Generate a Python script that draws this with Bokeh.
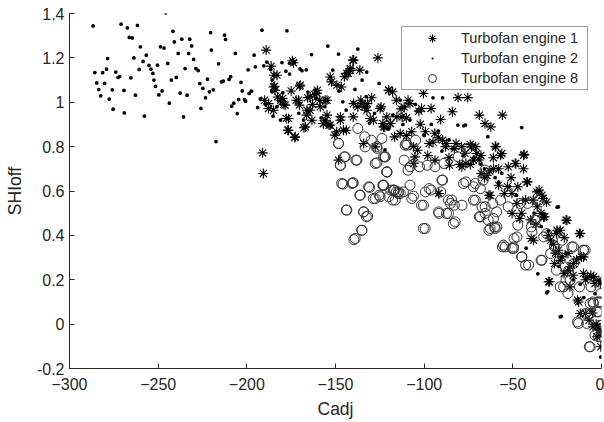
from bokeh.plotting import figure
from bokeh.models import ColumnDataSource, FixedTicker, Legend, LegendItem
from bokeh.embed import file_html
from bokeh.resources import INLINE

# ---------------- data ----------------
e1 = [(-189.1,1.235),(-191.1,0.772),(-190.7,0.679),(-186.3,1.163),(-184.8,1.122),(-184.3,1.072),(-184.1,1.054),(-190,1.009),(-187.8,0.972),(-182.6,1.024),(-180.9,1.009),(-179.1,0.991),(-179.8,1.017),(-177.8,0.927),(-176.9,0.874),(-174.3,1.187),(-173,0.841),(-175,1.051),(-170.2,1.072),(-172.2,1.009),(-170.4,0.987),(-167.8,0.885),(-166.3,0.942),(-165.7,1.021),(-164.3,0.964),(-163,0.99),(-161.7,1.035),(-160.2,1.054),(-158.9,1.009),(-156.9,0.904),(-154.8,1.009),(-155.6,0.919),(-153.7,0.897),(-152.2,1.092),(-150.4,0.852),(-149.3,0.867),(-148.3,0.739),(-147.2,0.934),(-146.7,1.069),(-145,1.115),(-143.9,0.874),(-142.8,1.13),(-141.7,1.145),(-140.2,1.19),(-136.3,1.145),(-140,0.934),(-137.4,0.979),(-135.7,1.009),(-134.1,0.814),(-133.5,0.979),(-132,0.994),(-130.4,0.927),(-129.6,1.02),(-127.6,0.799),(-126.1,1.2),(-124.3,0.979),(-123.3,0.904),(-122.2,0.889),(-121.1,0.934),(-119.9,1.054),(-118.9,0.904),(-117.8,1.047),(-116.7,0.844),(-115.7,1.009),(-113.5,0.859),(-112.4,0.934),(-111.3,0.979),(-109.1,1.009),(-108,0.994),(-107,0.867),(-105.9,0.724),(-105.2,0.754),(-103.7,0.784),(-102.2,0.901),(-101.5,0.972),(-100.4,1.04),(-99.3,0.867),(-97.2,0.814),(-96.1,0.972),(-93.9,0.739),(-91.7,0.589),(-90.7,0.922),(-89.6,0.829),(-87.4,0.814),(-85.7,0.716),(-84.1,0.957),(-82,0.814),(-80.9,1.021),(-78.7,0.709),(-76.5,0.724),(-75.4,1.021),(-73.3,0.799),(-72.2,0.739),(-70.4,0.769),(-68.9,0.942),(-67.8,0.679),(-65.7,0.904),(-64.6,0.671),(-63.5,0.581),(-62.4,0.889),(-60.9,0.701),(-59.6,0.799),(-58,0.626),(-56.9,0.761),(-55.9,0.942),(-54.8,0.589),(-52.6,0.709),(-50.4,0.499),(-48.3,0.724),(-47.2,0.619),(-46.1,0.476),(-43.9,0.761),(-42.8,0.559),(-41.7,0.641),(-39.6,0.386),(-38.5,0.559),(-36.3,0.529),(-35.2,0.604),(-34.1,0.499),(-33,0.566),(-32,0.484),(-29.8,0.191),(-28.7,0.378),(-26.5,0.273),(-25.4,0.408),(-24.3,0.333),(-23.3,0.423),(-22.2,0.303),(-21.1,0.228),(-20,0.469),(-18.9,0.318),(-17.8,0.168),(-15.7,0.273),(-13.5,0.108),(-12.4,0.408),(-11.3,0.303),(-10.2,0.228),(-9.1,0.048),(-8,0.213),(-7,0.018),(-4.8,-0.012),(-3.7,0.183),(-2.6,-0.057),(-1.5,0.198),(-0.4,-0.102),(-0.9,-0.027),
(-183,1.122),(-173.7,1.178),(-184.9,1.069),(-169.9,1.077),(-187.8,0.994),(-180.2,1.002),(-178.4,0.987),(-184.9,0.964),(-170.9,1.009),(-176.5,0.927),(-176.5,0.874),(-172.7,0.844),(-164.3,1.024),(-160.5,1.04),(-155.8,1.009),(-158.6,0.979),(-154.8,0.942),(-166.1,0.964),(-163.3,0.919),(-167,0.889),(-153,1.114),(-149.2,1.077),(-143.6,1.13),(-141.7,1.152),(-139.8,1.19),(-147.3,0.919),(-153,0.897),(-156.8,0.904),(-145.5,0.874),(-139.8,0.994),(-135.1,0.994),(-132.3,0.964),(-124.8,0.972),(-120.1,1.054),(-119.1,0.904),(-128.6,0.919),(-122.9,0.889),(-115.4,0.934),
(-59.9,0.802),(-56.2,0.769),(-43.6,0.765),(-48.7,0.724),(-42.1,0.641),(-36.4,0.596),(-33.6,0.581),(-32.7,0.483),(-50.5,0.589),(-47.7,0.544),(-38.3,0.378),(-25.1,0.423),(-19.5,0.468),(-12,0.409),(-29.3,0.191),(-23.3,0.288),(-17.7,0.258),(-10.2,0.303),(-12.9,0.1),(-12,0.048),(-4.5,0.213),(-0.7,0.183),(-2.6,-0.012),(-91.9,0.589),(-62.8,0.581),
(-110,0.85),(-106,0.80),(-98,0.76),(-95,0.82),(-88,0.80),(-86,0.75),(-80,0.72),(-79,0.80),(-77,0.77),(-74,0.72),(-71,0.80),(-69,0.74),(-66,0.66),(-63,0.69),(-61,0.75),(-58,0.70),(-53,0.62),(-51,0.66),(-45,0.50),(-44,0.70),(-40,0.47),(-37,0.45),(-31,0.55),(-30,0.40),(-27,0.36),(-26,0.32),(-21,0.39),(-19,0.24),(-16,0.22),(-14,0.29),(-9,0.20),(-6,0.22),(-5,0.05),(-3,0.00),(-1,-0.05),(-113,0.97),(-110,0.93),(-103,0.96),(-94,0.86),(-92,0.84),(-83,0.79),(-74,0.81),(-68,0.76)]

e2 = [(-286.7,1.344),(-285.7,1.134),(-284.6,1.087),(-283.5,1.057),(-282.4,1.029),(-281.3,1.133),(-280.2,1.085),(-278.5,1.197),(-279.1,1.149),(-277.6,1.014),(-275.9,1.056),(-275.4,0.969),(-273.9,1.136),(-272.6,1.112),(-271.7,1.116),(-270.9,1.352),(-269.3,1.053),(-269.1,0.952),(-267.4,1.335),(-266.3,1.292),(-264.6,1.29),(-265.4,1.11),(-263.7,1.2),(-262.8,1.032),(-261.7,1.346),(-260.7,1.148),(-260,1.25),(-258.5,1.184),(-257.8,0.937),(-256.7,1.212),(-255.2,1.166),(-254.1,1.149),(-253,1.13),(-252.4,1.1),(-251.5,1.072),(-250.4,1.167),(-249.6,1.033),(-248.7,1.25),(-247.8,1.051),(-246.7,1.244),(-245.7,1.403),(-244.6,1.175),(-243.7,0.996),(-242.6,1.1),(-241.7,1.32),(-240.9,1.272),(-239.8,1.112),(-238.7,1.22),(-237.6,1.041),(-236.7,1.284),(-235.7,0.934),(-234.8,1.152),(-233.7,1.032),(-232.8,1.22),(-232.2,1.284),(-231.1,1.254),(-230,1.193),(-228.7,1.152),(-227.4,1.143),(-226.5,1.084),(-225.9,0.972),(-224.8,1.063),(-223.3,1.02),(-222.2,1.104),(-221.1,1.047),(-220.4,1.314),(-220,1.235),(-218.9,1.056),(-217.4,0.823),(-215.9,1.173),(-214.3,1.092),(-213.3,1.095),(-212.6,1.302),(-212,1.283),(-210,1.103),(-209.1,1.115),(-208.5,0.982),(-207.4,0.996),(-206.5,1.22),(-205.4,0.949),(-204.6,1.012),(-203.3,1.09),(-202.6,1.051),(-201.3,1.012),(-200.7,1.005),(-199.3,1.146),(-198.7,1.04),(-197.4,1.05),(-195.9,1.212),(-195.2,1.16),(-193.9,0.976),(-192.4,1.015),(-191.5,1.325),(-190.4,1.164),(-189.6,0.991),(-188.7,1.181),(-186.5,1.148),(-185.7,1.1),(-185.2,0.937),(-180.2,1.179),(-177.4,1.322),(-175.9,1.176),(-173.3,1.182),(-168.9,1.142),(-166.5,1.146),(-163.5,1.215),(-154.3,1.253),(-148.3,1.217),(-137.4,1.24),(-132.4,1.136),
(-151.5,1.145),(-139,1.058),(-165.6,1.046),(-161.8,1.055),(-145.9,1.002),(-144,0.965),(-179.7,1.043),(-175.9,1.127),(-181,0.92),(-170.7,0.95),(-160.9,1.017),(-158.1,0.93),(-152.5,0.89),(-132.7,1.025),(-130.8,0.906),(-117.7,0.942),(-122.1,0.785),(-125.4,1.085),(-113.5,1.01),(-95,1.02),(-89.6,1.02),(-77.6,0.894),(-45,0.886),(-24.3,0.529),(-23.3,0.033),(-30.9,0.141),(-13.5,0.296),(-4.8,0.213),(-0.4,-0.148),(-3.7,0.138),(-81,0.897),(-76.7,0.897),(-64.1,0.845),(-56.2,0.68),(-42.5,0.342),(-35.9,0.227),(-30.3,0.147),(-22.7,0.035),(-25,0.527),
(-108,0.92),(-104,0.96),(-96,0.9),(-92,0.87),(-86,0.83),(-84,0.79),(-72,0.75),(-68,0.72),(-60,0.66),(-52,0.62),(-48,0.58),(-38,0.50),(-34,0.44),(-28,0.36),(-20,0.32),(-16,0.2),(-10,0.12),(-6,0.06),(-2,-0.02),(-140,1.0),(-128,0.95),(-120,0.88),(-112,0.9),(-100,0.85),(-90,0.78),(-78,0.76),(-66,0.7),(-58,0.64),(-44,0.56),(-30,0.42),(-24,0.26),(-12,0.18),(-135,1.1),(-170,1.15),(-178,1.14),(-186,1.05),(-183,0.98),(-168,0.92),(-156,0.98),(-148,1.05),(-105,0.99),(-110,1.065)]

e8 = [(-148.3,0.814),(-146.5,0.634),(-145,0.754),(-147.2,0.716),(-143.9,0.514),(-140.7,0.634),(-140,0.637),(-138.5,0.739),(-137.4,0.882),(-136.3,0.581),(-135.2,0.423),(-139.6,0.381),(-134.1,0.506),(-132.6,0.484),(-133.5,0.844),(-131.3,0.619),(-129.8,0.829),(-128.7,0.566),(-127.6,0.724),(-126.5,0.792),(-125.4,0.581),(-123.3,0.626),(-122.2,0.754),(-121.1,0.686),(-120,0.574),(-118.9,0.604),(-117.8,0.559),(-116.7,0.604),(-115.7,0.596),(-114.6,0.589),(-113.5,0.589),(-111.3,0.739),(-110.2,0.814),(-109.1,0.694),(-108,0.626),(-107,0.566),(-104.8,0.829),(-102.6,0.709),(-101.5,0.536),(-100.4,0.431),(-99.3,0.596),(-98.3,0.716),(-97.2,0.611),(-96.1,0.604),(-93.9,0.709),(-91.7,0.499),(-90.7,0.596),(-89.6,0.649),(-87.4,0.499),(-86.3,0.559),(-85.2,0.544),(-83.5,0.453),(-83,0.536),(-80.9,0.754),(-78.7,0.536),(-76.5,0.641),(-75.4,0.792),(-72.2,0.559),(-71.1,0.634),(-68.9,0.484),(-68.3,0.611),(-66.7,0.649),(-65.7,0.694),(-63.9,0.469),(-63.5,0.423),(-61.3,0.544),(-60.2,0.438),(-59.1,0.506),(-56.9,0.559),(-55.9,0.348),(-52.6,0.529),(-50.4,0.341),(-49.3,0.386),(-47.2,0.446),(-45,0.303),(-42.8,0.266),(-41.7,0.544),(-39.6,0.438),(-37.4,0.469),(-35.2,0.559),(-34.1,0.288),(-32.6,0.393),(-30.9,0.408),(-28.7,0.318),(-26.5,0.348),(-25.4,0.243),(-23.3,0.168),(-22.2,0.378),(-20,0.198),(-18.9,0.138),(-16.7,0.348),(-15.7,0.273),(-13.5,0.01),(-12.4,0.168),(-10.2,0.333),(-9.1,0.048),(-6.9,-0.102),(-5.9,0.168),(-4.8,0.1),(-3.7,-0.05),(-2.6,0.055),(-1.5,0.1),(-0.4,-0.057),(-0.9,-0.005),(-0.4,0.138),
(-122.9,0.754),(-121,0.686),(-110.7,0.807),(-107.9,0.709),(-88.9,0.724),(-122.9,0.626),(-117.3,0.604),(-106,0.577),(-100.4,0.536),(-91.9,0.506),(-86.3,0.499),(-82.5,0.461),(-99.4,0.431),(-90,0.649),(-84.4,0.559),(-77.8,0.634),(-71.2,0.559),(-68.4,0.483),(-62.8,0.431),(-59,0.438),(-65.6,0.529),(-47.7,0.393),(-54.3,0.348),(-49.6,0.348),(-44.9,0.303),(-41.1,0.266),(-33.6,0.288),(-37.4,0.468),(-15.8,0.348),(-10.2,0.333),(-21.4,0.168),(-6.4,0.093),(-0.7,0.1),(-8.3,0.003),(-6.4,-0.102),(-1.7,-0.057),
(-143.6,0.514),(-134.2,0.506),(-131.9,0.487),(-135.1,0.423),(-138.9,0.386),(-145.8,0.631),(-140.2,0.637),(-136,0.581),(-130.8,0.616),(-127.6,0.566),(-124.8,0.574),(-122.9,0.626),(-117.3,0.604),(-114.5,0.596),(-116.3,0.559),(-111.7,0.596),(-144.5,0.754),(-147.3,0.716),(-137.9,0.739),(-126.7,0.727),(-121.9,0.754),(-121,0.686),(-133.3,0.799),(-126.7,0.799),(-123.8,0.837),(-148.3,0.814),(-109.7,0.807),
(-72.2,0.619),(-67.4,0.528),(-65.6,0.499),(-60.9,0.476),(-60,0.431),(-55.3,0.356),(-49.6,0.341),(-45.9,0.544),(-39.2,0.416),(-9.2,0.333),(-20.5,0.258),(-17.7,0.198),(-6.4,0.048),(-13,0.003),(-1.7,0.055),(-4.5,0.093)]

labels = ["Turbofan engine 1", "Turbofan engine 2", "Turbofan engine 8"]
x_ticks = [-300, -250, -200, -150, -100, -50, 0]
y_ticks = [-0.2, 0, 0.2, 0.4, 0.6, 0.8, 1, 1.2, 1.4]
y_tick_labels = ["-0.2", "0", "0.2", "0.4", "0.6", "0.8", "1", "1.2", "1.4"]

# ---------------- figure ----------------
INK = "#262626"
FONT = "Liberation Sans"

p = figure(frame_width=532, frame_height=355,
           x_range=(-300, 0), y_range=(-0.2, 1.4),
           output_backend="svg", toolbar_location=None,
           min_border_left=69, min_border_top=13, min_border_right=3, min_border_bottom=48)
p.outline_line_color = None
p.grid.visible = False
p.background_fill_color = "white"
p.border_fill_color = "white"

def src(pts):
    return ColumnDataSource(dict(x=[a for a, b in pts], y=[b for a, b in pts]))

r1 = p.scatter("x", "y", source=src(e1), marker="asterisk", size=10,
               line_color="black", line_width=1.1)
r2 = p.scatter("x", "y", source=src(e2), marker="dot", size=15,
               line_color="black", fill_color="black")
r8 = p.scatter("x", "y", source=src(e8), marker="circle", size=10,
               fill_color=None, line_color="#333333", line_width=1)

for ax in (p.xaxis[0], p.yaxis[0]):
    ax.axis_line_color = INK
    ax.axis_line_width = 1
    ax.major_tick_line_color = INK
    ax.major_tick_in = 5
    ax.major_tick_out = 0
    ax.minor_tick_line_color = None
    ax.major_label_text_font = FONT
    ax.major_label_text_font_size = "16px"
    ax.major_label_text_color = INK
    ax.axis_label_text_font = FONT
    ax.axis_label_text_font_size = "17.5px"
    ax.axis_label_text_font_style = "normal"
    ax.axis_label_text_color = INK

p.xaxis.ticker = FixedTicker(ticks=x_ticks)
p.yaxis.ticker = FixedTicker(ticks=y_ticks)
p.yaxis.major_label_overrides = dict(zip(y_ticks, y_tick_labels))
p.xaxis.axis_label = "Cadj"
p.yaxis.axis_label = "SHIoff"
p.xaxis.major_label_standoff = 9
p.xaxis.axis_label_standoff = 6
p.yaxis.major_label_standoff = 5
p.yaxis.axis_label_standoff = 9

legend = Legend(items=[LegendItem(label=labels[0], renderers=[r1]),
                       LegendItem(label=labels[1], renderers=[r2]),
                       LegendItem(label=labels[2], renderers=[r8])],
                location="top_right", margin=13, padding=1, spacing=0,
                glyph_width=58, glyph_height=20, label_height=20,
                label_standoff=0, label_width=125,
                label_text_font=FONT, label_text_font_size="14.5px",
                label_text_color=INK,
                border_line_color="#404040", border_line_width=1,
                background_fill_color="white", background_fill_alpha=1)
p.add_layout(legend, "center")

open("out.html", "w").write(file_html(p, INLINE))
